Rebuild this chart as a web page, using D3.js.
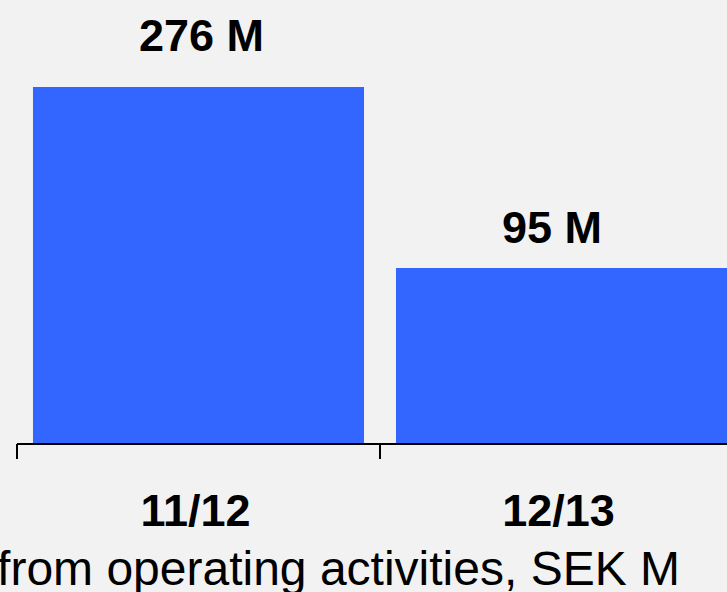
<!DOCTYPE html>
<html>
<head>
<meta charset="utf-8">
<script src="https://cdn.jsdelivr.net/npm/d3@7"></script>
<style>
  html, body { margin: 0; padding: 0; background: #f2f2f2; overflow: hidden; }
  svg { display: block; font-family: "Liberation Sans", Arial, Helvetica, sans-serif; }
</style>
</head>
<body>
<svg id="chart" width="727" height="592"></svg>
<script>
var categories = ["11/12", "12/13"];
var values = [276, 95];
var valueLabels = ["276 M", "95 M"];
var axisTitle = "Cash flow from operating activities, SEK M";

var svg = d3.select("#chart");

svg.append("rect")
  .attr("width", 727)
  .attr("height", 592)
  .attr("fill", "#f2f2f2");

// band scale for the bars, edge scale for the ticks between bands
var x = d3.scaleBand()
  .domain(categories)
  .range([17, 743])
  .paddingInner(0.088)
  .paddingOuter(0.044);

var xEdge = d3.scaleLinear()
  .domain([0, categories.length])
  .range([17, 743]);

var y = d3.scaleLinear()
  .domain([-80, 276])
  .range([443, 87]);

// the value labels sit on their own scale
var yLabel = d3.scaleLinear()
  .domain([95, 276])
  .range([243, 51]);

svg.selectAll("rect.bar")
  .data(values)
  .enter().append("rect")
  .attr("class", "bar")
  .attr("x", function(d, i) { return x(categories[i]); })
  .attr("y", function(d) { return y(d); })
  .attr("width", x.bandwidth())
  .attr("height", function(d) { return y(-80) - y(d); })
  .attr("fill", "#3366ff");

svg.selectAll("text.value")
  .data(values)
  .enter().append("text")
  .attr("class", "value")
  .attr("x", function(d, i) { return x(categories[i]) + 106; })
  .attr("y", function(d) { return yLabel(d); })
  .attr("font-size", 45)
  .attr("font-weight", "bold")
  .attr("fill", "#000")
  .text(function(d, i) { return valueLabels[i]; });

var axis = svg.append("g")
  .attr("class", "axis")
  .attr("transform", "translate(0,444)")
  .call(d3.axisBottom(xEdge)
    .tickValues(d3.range(categories.length + 1))
    .tickFormat("")
    .tickSizeInner(15)
    .tickSizeOuter(0)
    .offset(0));
axis.selectAll("path, line")
  .attr("stroke", "#000")
  .attr("stroke-width", 2);

svg.selectAll("text.cat")
  .data(categories)
  .enter().append("text")
  .attr("class", "cat")
  .attr("x", function(d) { return x(d) + x.bandwidth() / 2 - 3; })
  .attr("y", 526)
  .attr("text-anchor", "middle")
  .attr("font-size", 45)
  .attr("font-weight", "bold")
  .attr("fill", "#000")
  .text(function(d) { return d; });

svg.append("text")
  .attr("x", 680)
  .attr("y", 585)
  .attr("text-anchor", "end")
  .attr("font-size", 48)
  .attr("fill", "#000")
  .text(axisTitle);
</script>
</body>
</html>
